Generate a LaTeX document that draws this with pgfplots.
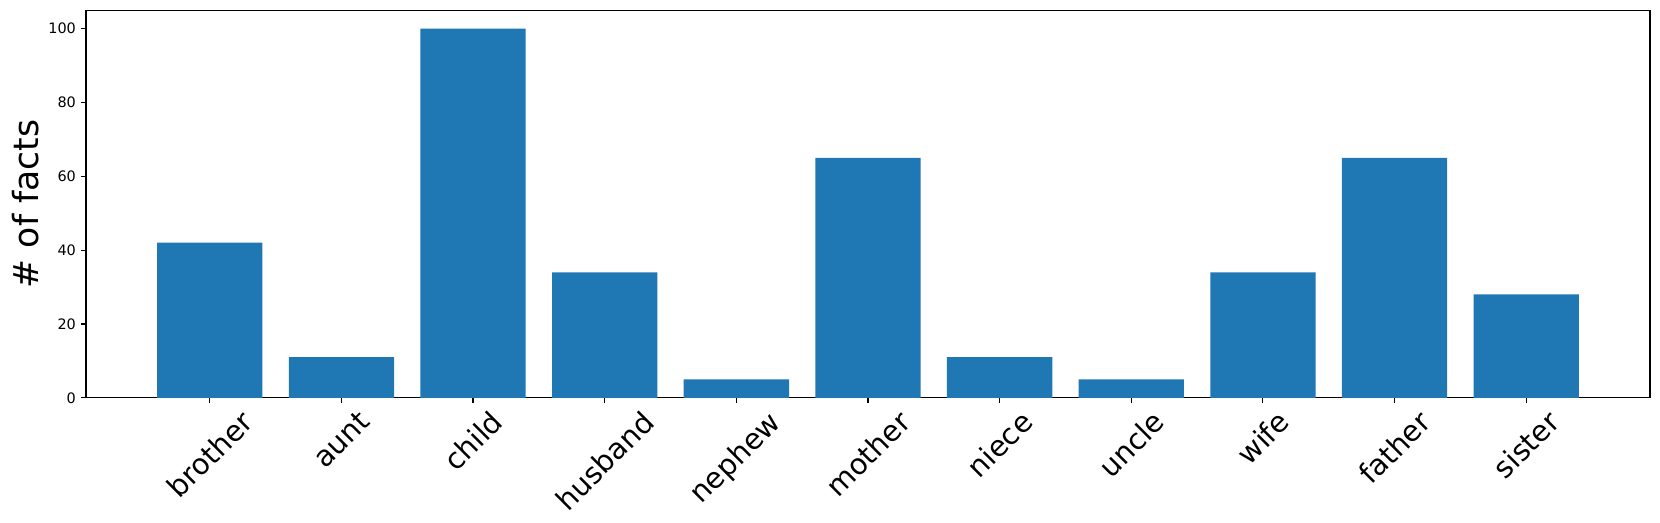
\documentclass[border=0pt]{standalone}
\usepackage{fontspec}
\setmainfont{DejaVu Sans}
\usepackage{graphicx}
\usepackage{pgfplots}
\pgfplotsset{compat=1.18}
\usetikzlibrary{calc}
\definecolor{mplblue}{HTML}{1F77B4}

\begin{document}
\begin{tikzpicture}
\begin{axis}[
  scale only axis, width=1085pt, height=269pt,
  xmin=-0.94, xmax=10.94, ymin=0, ymax=105,
  xtick={0,...,10},
  xticklabels={\rotatebox{45}{brother},\rotatebox{45}{aunt},\rotatebox{45}{child},\rotatebox{45}{husband},\rotatebox{45}{nephew},\rotatebox{45}{mother},\rotatebox{45}{niece},\rotatebox{45}{uncle},\rotatebox{45}{wife},\rotatebox{45}{father},\rotatebox{45}{sister}},
  x tick label style={font=\fontsize{20}{22}\selectfont, anchor=north, inner sep=4pt},
  ytick={0,20,40,60,80,100},
  y tick label style={font=\fontsize{10}{12}\selectfont},
  /pgf/number format/assume math mode=true,
  tick align=outside, major tick length=3.5pt,
  tick style={black, line width=0.8pt},
  xtick pos=bottom, ytick pos=left,
  axis line style={black, line width=0.8pt},
  ylabel={\# of facts},
  ylabel style={font=\fontsize{24}{28}\selectfont},
]
\addplot[ybar, bar width=0.8, bar shift=0pt, fill=mplblue, draw=none] coordinates {
  (0,42) (1,11) (2,100) (3,34) (4,5) (5,65) (6,11) (7,5) (8,34) (9,65) (10,28)
};
\end{axis}
\path ($(current axis.south west)+(-59.7pt,-86.8pt)$) rectangle ($(current axis.north east)+(7pt,7pt)$);
\end{tikzpicture}
\end{document}
